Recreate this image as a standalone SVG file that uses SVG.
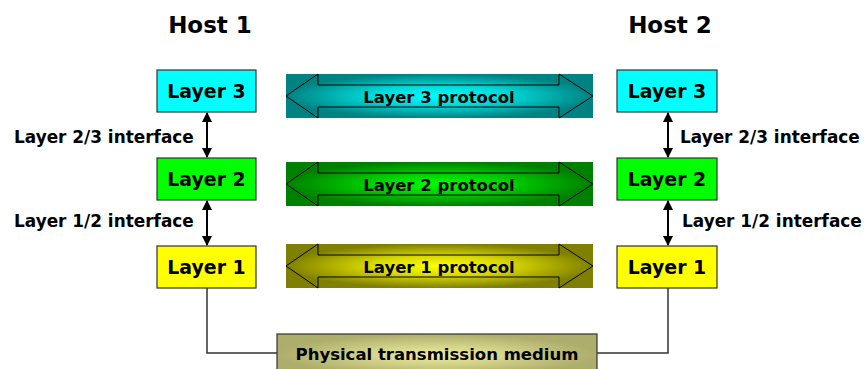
<svg xmlns="http://www.w3.org/2000/svg" width="864" height="369" viewBox="0 0 864 369">
  <style>
    text { font-family: "DejaVu Sans", Verdana, sans-serif; font-weight: bold; fill: #000; }
    .host { font-size: 23px; text-anchor: middle; }
    .box { stroke: #333; stroke-width: 1.2; }
    .lbl { font-size: 18.9px; text-anchor: middle; }
    .iface { font-size: 16.9px; }
    .proto { font-size: 16.5px; text-anchor: middle; }
    .outline { fill: none; stroke: #000; stroke-width: 1; }
    .link { fill: none; stroke: #333; stroke-width: 1.5; }
    .iarrow { stroke: #000; stroke-width: 2; marker-start: url(#head); marker-end: url(#head); }
  </style>
  <defs>
    <marker id="head" viewBox="0 0 10 10" refX="9" refY="5" markerWidth="5" markerHeight="5" orient="auto-start-reverse" markerUnits="strokeWidth">
      <path d="M0,0 L10,5 L0,10 Z" fill="#000"/>
    </marker>
    <radialGradient id="g3" cx="0.5" cy="0.5" r="0.5">
      <stop offset="0" stop-color="#00FFFF"/>
      <stop offset="0.45" stop-color="#00D8D8"/>
      <stop offset="1" stop-color="#008282"/>
    </radialGradient>
    <radialGradient id="g2" cx="0.5" cy="0.5" r="0.5">
      <stop offset="0" stop-color="#00FF00"/>
      <stop offset="0.45" stop-color="#00D000"/>
      <stop offset="1" stop-color="#008000"/>
    </radialGradient>
    <radialGradient id="g1" cx="0.5" cy="0.5" r="0.5">
      <stop offset="0" stop-color="#FFFF00"/>
      <stop offset="0.45" stop-color="#D8D800"/>
      <stop offset="1" stop-color="#808000"/>
    </radialGradient>
    <radialGradient id="gm" cx="0.5" cy="0.5" r="0.5">
      <stop offset="0" stop-color="#F0F0A0"/>
      <stop offset="1" stop-color="#ADAD6C"/>
    </radialGradient>
  </defs>

  <!-- host titles -->
  <text class="host" x="210" y="33">Host 1</text>
  <text class="host" x="670" y="33">Host 2</text>

  <!-- connectors -->
  <g id="connectors">
    <line class="iarrow" x1="207" y1="113" x2="207" y2="157"/>
    <line class="iarrow" x1="207" y1="201" x2="207" y2="245"/>
    <line class="iarrow" x1="668" y1="113" x2="668" y2="157"/>
    <line class="iarrow" x1="668" y1="201" x2="668" y2="245"/>
    <polyline class="link" points="207,288 207,353 277,353"/>
    <polyline class="link" points="668,288 668,353 597,353"/>
    <text class="iface" x="14" y="143">Layer 2/3 interface</text>
    <text class="iface" x="14" y="227">Layer 1/2 interface</text>
    <text class="iface" x="680" y="143">Layer 2/3 interface</text>
    <text class="iface" x="682" y="227">Layer 1/2 interface</text>
  </g>

  <!-- host 1 stack -->
  <g id="h1-layer3">
    <rect class="box" x="157" y="70" width="99" height="42" fill="#00FFFF"/>
    <text class="lbl" x="206.5" y="98">Layer 3</text>
  </g>
  <g id="h1-layer2">
    <rect class="box" x="157" y="158" width="99" height="42" fill="#00FF00"/>
    <text class="lbl" x="206.5" y="186">Layer 2</text>
  </g>
  <g id="h1-layer1">
    <rect class="box" x="157" y="246" width="99" height="42" fill="#FFFF00"/>
    <text class="lbl" x="206.5" y="274">Layer 1</text>
  </g>

  <!-- host 2 stack -->
  <g id="h2-layer3">
    <rect class="box" x="617" y="70" width="100" height="42" fill="#00FFFF"/>
    <text class="lbl" x="667" y="98">Layer 3</text>
  </g>
  <g id="h2-layer2">
    <rect class="box" x="617" y="158" width="100" height="42" fill="#00FF00"/>
    <text class="lbl" x="667" y="186">Layer 2</text>
  </g>
  <g id="h2-layer1">
    <rect class="box" x="617" y="246" width="100" height="42" fill="#FFFF00"/>
    <text class="lbl" x="667" y="274">Layer 1</text>
  </g>

  <!-- peer protocols -->
  <g id="proto3">
    <rect x="286" y="74" width="307" height="44" fill="url(#g3)"/>
    <path class="outline" d="M286,96 L318,74 L318,85 L559,85 L559,74 L593,96 L559,118 L559,107 L318,107 L318,118 Z"/>
    <text class="proto" x="439" y="103">Layer 3 protocol</text>
  </g>
  <g id="proto2">
    <rect x="286" y="162" width="307" height="44" fill="url(#g2)"/>
    <path class="outline" d="M286,184 L318,162 L318,173 L559,173 L559,162 L593,184 L559,206 L559,195 L318,195 L318,206 Z"/>
    <text class="proto" x="439" y="191">Layer 2 protocol</text>
  </g>
  <g id="proto1">
    <rect x="286" y="244" width="307" height="44" fill="url(#g1)"/>
    <path class="outline" d="M286,266 L318,244 L318,255 L559,255 L559,244 L593,266 L559,288 L559,277 L318,277 L318,288 Z"/>
    <text class="proto" x="439" y="273">Layer 1 protocol</text>
  </g>

  <!-- shared medium -->
  <g id="medium">
    <rect class="box" x="277" y="334" width="320" height="42" fill="url(#gm)"/>
    <text class="proto" x="437" y="360">Physical transmission medium</text>
  </g>
</svg>
